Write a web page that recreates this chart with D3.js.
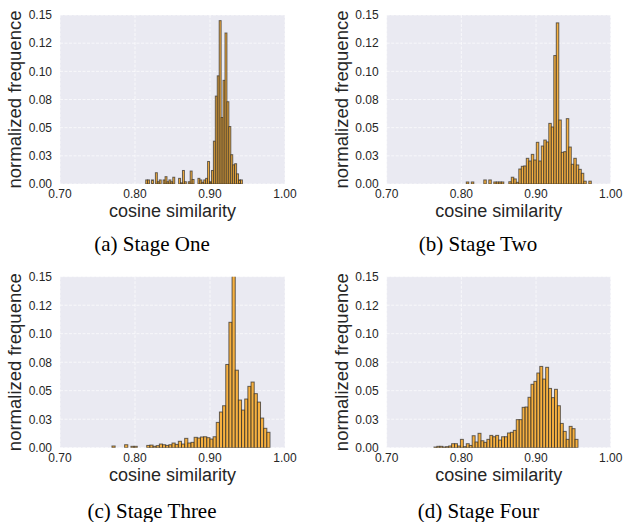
<!DOCTYPE html>
<html>
<head>
<meta charset="utf-8">
<script src="https://cdn.jsdelivr.net/npm/d3@7"></script>
<style>
  body { margin: 0; background: #fff; }
  svg { display: block; }
</style>
</head>
<body>
<div id="chart"></div>
<script>
// normalized frequence per histogram bin
const stageOneRange = [0.8143, 0.9432];
const stageOneValues = [
  0.0036, 0.0036, 0, 0.0036, 0, 0.010, 0.002, 0.0036, 0, 0.0036,
  0.0065, 0.002, 0.0036, 0.002, 0.006, 0, 0, 0.005, 0.001, 0.012,
  0.002, 0, 0.002, 0.0115, 0.004, 0, 0, 0.005, 0.0036, 0.0015,
  0.0036, 0.005, 0.020, 0.002, 0.012, 0.038, 0.078, 0.096, 0.145, 0.059,
  0.092, 0.134, 0.073, 0.051, 0.026, 0.017, 0.018, 0.009, 0.0036, 0.0036
];

const stageTwoRange = [0.8066, 0.974];
const stageTwoValues = [
  0.0018, 0, 0.0018, 0, 0, 0, 0, 0.0036, 0, 0.0036,
  0, 0.0018, 0.0018, 0.0018, 0.0018, 0, 0, 0.002, 0.006, 0.0045,
  0.0015, 0.0133, 0.0157, 0.016, 0.0228, 0.0204, 0.0263, 0.0213, 0.037, 0.0204,
  0.0337, 0.039, 0.0373, 0.0538, 0.0506, 0.114, 0.143, 0.0568, 0.0281, 0.0287,
  0.058, 0.0328, 0.0175, 0.0228, 0.0169, 0.013, 0.0095, 0.0025, 0, 0.0025
];

const stageThreeRange = [0.7693, 0.98];
const stageThreeValues = [
  0.0015, 0, 0, 0, 0.0026, 0, 0.0012, 0.0012, 0, 0,
  0, 0.002, 0.0023, 0.0012, 0.0018, 0.0032, 0.0026, 0.002, 0.0026, 0.0041,
  0.0029, 0.0056, 0.0032, 0.0082, 0.0041, 0.0047, 0.0091, 0.0085, 0.0094, 0.0096,
  0.0088, 0.0076, 0.0096, 0.0222, 0.0313, 0.0368, 0.073, 0.110, 0.165, 0.068,
  0.0418, 0.033, 0.0427, 0.0538, 0.0576, 0.0474, 0.040, 0.026, 0.017, 0.0135
];

const stageFourRange = [0.7633, 0.9562];
const stageFourValues = [
  0.0006, 0.0012, 0.0012, 0.0006, 0.0009, 0.0015, 0.0035, 0.0035, 0.0015, 0.0073,
  0.0009, 0.0035, 0.002, 0.0105, 0.005, 0.0126, 0.0061, 0.0047, 0.0073, 0.0108,
  0.0096, 0.0108, 0.0067, 0.0096, 0.0096, 0.0129, 0.0135, 0.0152, 0.0246, 0.0246,
  0.0354, 0.0357, 0.0442, 0.0556, 0.0582, 0.0655, 0.0713, 0.0602, 0.0705, 0.052,
  0.0439, 0.0512, 0.0368, 0.0213, 0.0143, 0.0073, 0.0187, 0.0167, 0.0073
];

const xTicks = [0.70, 0.80, 0.90, 1.00];
const xTickLabels = ['0.70', '0.80', '0.90', '1.00'];
const yTicks = [0, 0.025, 0.05, 0.075, 0.10, 0.125, 0.15];
const yTickLabels = ['0.00', '0.03', '0.05', '0.08', '0.10', '0.12', '0.15'];
const captions = ['(a) Stage One', '(b) Stage Two', '(c) Stage Three', '(d) Stage Four'];

const panels = [
  { range: stageOneRange, values: stageOneValues, left: 60, top: 15, w: 225, h: 169, capX: 152, capY: 251 },
  { range: stageTwoRange, values: stageTwoValues, left: 386.7, top: 15, w: 224, h: 169, capX: 478, capY: 251 },
  { range: stageThreeRange, values: stageThreeValues, left: 60, top: 276.7, w: 225, h: 171, capX: 152, capY: 518 },
  { range: stageFourRange, values: stageFourValues, left: 386.7, top: 276.7, w: 224, h: 171, capX: 478.5, capY: 518 }
];

const svg = d3.select('#chart').append('svg')
    .attr('width', 624)
    .attr('height', 522);

const sans = '"Liberation Sans", Arial, sans-serif';
const serif = '"Liberation Serif", "Times New Roman", serif';

panels.forEach((p, i) => {
    const x = d3.scaleLinear().domain([0.7, 1.0]).range([0, p.w]);
    const y = d3.scaleLinear().domain([0, 0.15]).range([p.h, 0]);

    const g = svg.append('g').attr('transform', `translate(${p.left},${p.top})`);

    g.append('rect')
        .attr('width', p.w)
        .attr('height', p.h)
        .attr('fill', '#eaeaf2');

    // grid
    g.selectAll('.hgrid').data(yTicks).enter().append('line')
        .attr('x1', 0).attr('x2', p.w)
        .attr('y1', d => y(d)).attr('y2', d => y(d))
        .attr('stroke', '#fff').attr('stroke-width', 0.9)
        .attr('stroke-opacity', 0.75)
        .attr('stroke-dasharray', '3,1.5');
    g.selectAll('.vgrid').data(xTicks).enter().append('line')
        .attr('y1', 0).attr('y2', p.h)
        .attr('x1', d => x(d)).attr('x2', d => x(d))
        .attr('stroke', '#fff').attr('stroke-width', 0.9)
        .attr('stroke-opacity', 0.75)
        .attr('stroke-dasharray', '3,1.5');

    const clipId = `clip${i}`;
    g.append('clipPath').attr('id', clipId)
        .append('rect').attr('width', p.w).attr('height', p.h);

    const binW = (p.range[1] - p.range[0]) / p.values.length;
    const bins = p.values.map((v, k) => ({ x0: p.range[0] + k * binW, x1: p.range[0] + (k + 1) * binW, v }));

    g.append('g').attr('clip-path', `url(#${clipId})`)
        .selectAll('rect').data(bins).enter().append('rect')
        .attr('x', d => x(d.x0))
        .attr('width', d => x(d.x1) - x(d.x0))
        .attr('y', d => y(d.v))
        .attr('height', d => y(0) - y(d.v))
        .attr('fill', 'rgba(248,168,40,0.88)')
        .attr('stroke', 'rgba(40,40,40,0.7)')
        .attr('stroke-width', 1);

    // tick labels
    g.selectAll('.ytl').data(yTicks).enter().append('text')
        .attr('x', -8)
        .attr('y', d => y(d))
        .attr('dy', '0.36em')
        .attr('text-anchor', 'end')
        .style('font-family', sans)
        .style('font-size', '12px')
        .attr('fill', '#262626')
        .text((d, k) => yTickLabels[k]);

    g.selectAll('.xtl').data(xTicks).enter().append('text')
        .attr('x', d => x(d))
        .attr('y', p.h + 14)
        .attr('text-anchor', 'middle')
        .style('font-family', sans)
        .style('font-size', '12px')
        .attr('fill', '#262626')
        .text((d, k) => xTickLabels[k]);

    // axis titles
    g.append('text')
        .attr('x', p.w / 2)
        .attr('y', p.h + 33)
        .attr('text-anchor', 'middle')
        .style('font-family', sans)
        .style('font-size', '18px')
        .attr('fill', '#262626')
        .text('cosine similarity');

    g.append('text')
        .attr('transform', `translate(${21 - p.left + (i % 2 ? 326.7 : 0)},${p.h / 2}) rotate(-90)`)
        .attr('text-anchor', 'middle')
        .style('font-family', sans)
        .style('font-size', '18.5px')
        .attr('fill', '#262626')
        .text('normalized frequence');

    svg.append('text')
        .attr('x', p.capX)
        .attr('y', p.capY)
        .attr('text-anchor', 'middle')
        .style('font-family', serif)
        .style('font-size', '21px')
        .attr('fill', '#000')
        .text(captions[i]);
});
</script>
</body>
</html>
